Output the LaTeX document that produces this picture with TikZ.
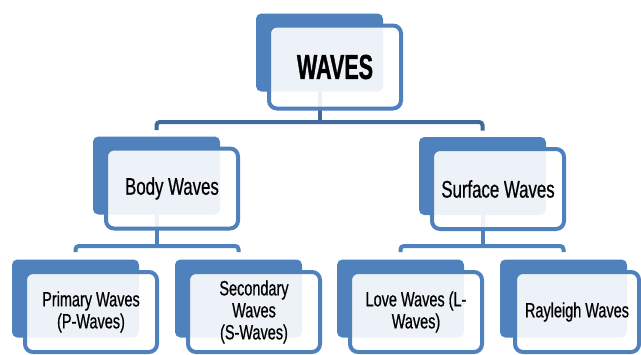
\documentclass[tikz,border=0pt]{standalone}
\usepackage{fontspec}
\usetikzlibrary{calc}
\newfontfamily\nar[FakeStretch=0.70,FakeBold=0.6]{Liberation Sans}
\newfontfamily\narb[FakeStretch=0.62,FakeBold=1]{Liberation Sans}
\definecolor{bblue}{HTML}{4F81BD}
\definecolor{dblue}{HTML}{41699B}
\tikzset{
  backbox/.style={fill=bblue, rounded corners=4pt, minimum width=95.25pt, minimum height=58.5pt, inner sep=0pt},
  frontbox/.style={draw=bblue, line width=3pt, fill=white, fill opacity=0.9, text opacity=1,
    rounded corners=6pt, minimum width=99pt, minimum height=60pt, inner sep=0pt, align=center, text=black},
  midtext/.style={font=\nar\fontsize{18pt}{20pt}\selectfont},
  lowtext/.style={font=\nar\fontsize{15.5pt}{16.5pt}\selectfont},
  topconn/.style={draw=dblue, line width=3pt, rounded corners=2.5pt},
  lowconn/.style={draw=bblue, line width=3pt, rounded corners=2.5pt},
}
\begin{document}
\begin{tikzpicture}[x=0.75pt,y=-0.75pt]
\fill[white] (0,0) rectangle (641,354);
\useasboundingbox (0,0) rectangle (641,354);
% back boxes
\node[backbox] (wavesB) at (319.5,52.5) {};
\node[backbox] (bodyB) at (156.5,175.5) {};
\node[backbox] (surfB) at (482.5,176) {};
\node[backbox] (primB) at (75.5,298.5) {};
\node[backbox] (secB) at (238.5,298.5) {};
\node[backbox] (loveB) at (400.5,298.5) {};
\node[backbox] (rayB) at (563.5,298.5) {};
% connectors
\coordinate (j1) at (319.5,122);
\coordinate (j2) at (156.5,246);
\coordinate (j3) at (482.5,246);
\draw[topconn] (wavesB.south) -- (j1);
\draw[topconn] ($(bodyB.north)+(0,-6)$) |- (j1) -| ($(surfB.north)+(0,-6)$);
\draw[lowconn] (bodyB.south) -- (j2);
\draw[lowconn] ($(primB.north)+(0,-7)$) |- (j2) -| ($(secB.north)+(0,-7)$);
\draw[lowconn] (surfB.south) -- (j3);
\draw[lowconn] ($(loveB.north)+(0,-7)$) |- (j3) -| ($(rayB.north)+(0,-7)$);
% front boxes
\node[frontbox, minimum height=62.25pt, font=\narb\bfseries\fontsize{26pt}{28pt}\selectfont] (waves) at ($(wavesB)+(15.5,14.5)$) {WAVES};
\node[frontbox, midtext] (body) at ($(bodyB)+(15.5,13)$) {Body Waves};
\node[frontbox, midtext] (surf) at ($(surfB)+(15.5,13)$) {Surface Waves};
\node[frontbox, lowtext] (prim) at ($(primB)+(15.5,13.5)$) {Primary Waves\\(P-Waves)};
\node[frontbox, lowtext] (sec) at ($(secB)+(15.5,13.5)$) {Secondary\\Waves\\(S-Waves)};
\node[frontbox, lowtext] (love) at ($(loveB)+(15.5,13.5)$) {Love Waves (L-\\Waves)};
\node[frontbox, lowtext, minimum width=93pt] (ray) at ($(rayB)+(13.5,13.5)$) {Rayleigh Waves};
\end{tikzpicture}
\end{document}
